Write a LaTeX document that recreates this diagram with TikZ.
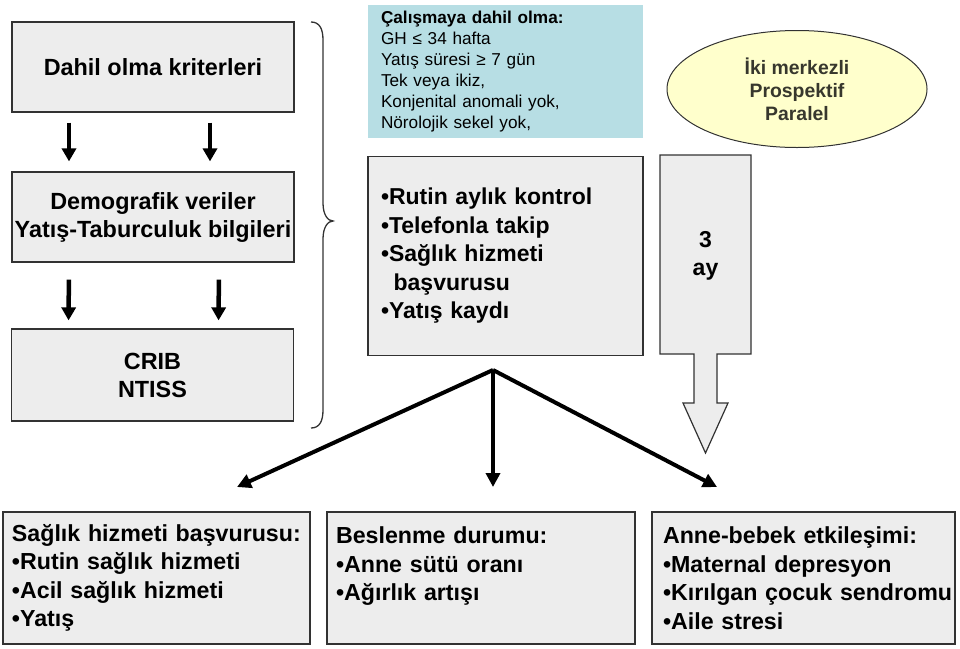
\documentclass[tikz,border=0pt]{standalone}
\usepackage{fontspec}
\setmainfont{Liberation Sans}
\usetikzlibrary{shapes.geometric,arrows.meta}
\definecolor{boxfill}{RGB}{237,237,237}
\definecolor{boxline}{RGB}{50,50,50}
\definecolor{teal}{RGB}{183,222,228}
\definecolor{ellfill}{RGB}{255,255,204}
\definecolor{elltext}{RGB}{55,55,45}
\tikzset{
  graybox/.style={draw=boxline, line width=1.2pt, fill=boxfill, inner sep=0pt, align=center},
  leftbox/.style={graybox, minimum width=282pt, minimum height=90pt, font=\fontsize{23.4}{28}\selectfont\bfseries},
  botbox/.style={graybox, minimum height=132pt, inner xsep=9pt, align=left, font=\fontsize{23.2}{28.5}\selectfont\bfseries},
  smallarr/.style={line width=4.5pt, -{Triangle[length=13pt,width=14pt]}},
  fanarr/.style={line width=4pt, -{Triangle[length=14pt,width=14pt]}},
}
\begin{document}
\begin{tikzpicture}[x=1pt,y=-1pt]
\useasboundingbox (0,0) rectangle (960,648);
% left column
\node[leftbox] (A) at (153,67) {Dahil olma kriterleri};
\node[leftbox] (B) at (153,217) {Demografik veriler\\Yatış-Taburculuk bilgileri};
\node[leftbox, minimum height=92pt] (C) at (152.5,375) {CRIB\\NTISS};
\draw[smallarr, shorten <=10pt, shorten >=10pt] ([xshift=-84pt]A.south) -- ([xshift=-84pt]B.north);
\draw[smallarr, shorten <=10pt, shorten >=10pt] ([xshift=57pt]A.south) -- ([xshift=57pt]B.north);
\draw[smallarr, shorten <=17pt, shorten >=8pt] ([xshift=-84pt]B.south) -- ([xshift=-84pt]C.north);
\draw[smallarr, shorten <=17pt, shorten >=8pt] ([xshift=66pt]B.south) -- ([xshift=66pt]C.north);
% brace
\draw[line width=1.3pt, boxline] (311,22) .. controls (319,22) and (323,28) .. (323,40)
  -- (323,203) .. controls (323,215) and (328,221) .. (333,221)
  .. controls (328,221) and (323,227) .. (323,239)
  -- (323,410) .. controls (323,422) and (319,428) .. (311,428);
% blue box
\node[fill=teal, minimum width=275pt, minimum height=133pt, text width=249pt, inner xsep=13pt, inner ysep=0pt, align=left,
  font=\fontsize{17.2}{21}\selectfont] (T) at (505.5,71.5)
  {\textbf{Çalışmaya dahil olma:}\\GH ≤ 34 hafta\\Yatış süresi ≥ 7 gün\\Tek veya ikiz,\\Konjenital anomali yok,\\Nörolojik sekel yok,};
% follow-up box
\node[graybox, minimum width=275pt, minimum height=199pt, text width=249pt, inner xsep=13pt, align=left,
  font=\fontsize{23}{28.5}\selectfont\bfseries] (D) at (505.5,256)
  {•Rutin aylık kontrol\\•Telefonla takip\\•Sağlık hizmeti\\\hspace*{0.55em}başvurusu\\•Yatış kaydı};
% 3 ay block arrow
\draw[draw=boxline, line width=1.2pt, fill=boxfill] (660,155) -- (751,155) -- (751,354) -- (717,354) -- (717,403) -- (728,403)
  -- (705.5,453) -- (683,403) -- (694,403) -- (694,354) -- (660,354) -- cycle;
\node[font=\fontsize{23}{28}\selectfont\bfseries, align=center] (E) at (705.5,256) {3\\ay};
% ellipse
\node[ellipse, draw=boxline, line width=1pt, fill=ellfill, minimum width=260pt, minimum height=117pt, inner sep=0pt,
  align=center, text=elltext, font=\fontsize{19.4}{23}\selectfont\bfseries] (P) at (797,89)
  {İki merkezli\\Prospektif\\Paralel};
% bottom boxes
\node[botbox, minimum width=307pt, text width=289pt] (F) at (156.5,578)
  {Sağlık hizmeti başvurusu:\\•Rutin sağlık hizmeti\\•Acil sağlık hizmeti\\•Yatış};
\node[botbox, minimum width=308pt, text width=290pt] (G) at (481,578)
  {Beslenme durumu:\\•Anne sütü oranı\\•Ağırlık artışı\\\mbox{}};
\node[botbox, minimum width=303pt, text width=281pt, inner xsep=11pt] (H) at (803.5,578)
  {Anne-bebek etkileşimi:\\•Maternal depresyon\\\mbox{•Kırılgan çocuk sendromu}\\•Aile stresi};
% fan arrows
\coordinate (fan) at (493,370);
\coordinate (t1) at (237,487);
\coordinate (t2) at (493,487);
\coordinate (t3) at (717,487);
\draw[fanarr] (fan) -- (t1);
\draw[fanarr] (fan) -- (t2);
\draw[fanarr] (fan) -- (t3);
\end{tikzpicture}
\end{document}
